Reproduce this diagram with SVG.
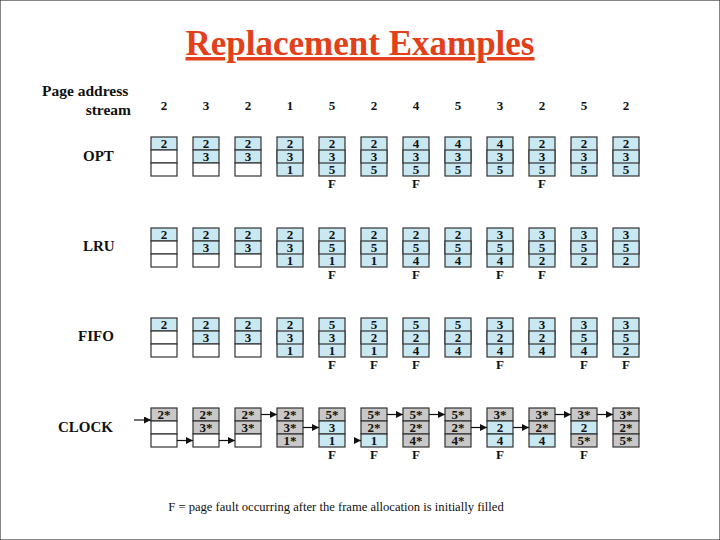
<svg xmlns="http://www.w3.org/2000/svg" width="720" height="540" viewBox="0 0 720 540">
<defs>
<style>
rect{stroke:#333;stroke-width:1.2}
.b{fill:#c9e8f1}.g{fill:#c8c8c8}.w{fill:#fff}
text{font-family:"Liberation Serif","Times New Roman",serif;font-weight:bold;fill:#111}
.t{font-size:13px;text-anchor:middle}
.f{font-size:13px;text-anchor:middle}
.l{font-size:15px}
.c{stroke:#111;stroke-width:1.2;fill:none;marker-end:url(#ah)}
</style>
<marker id="ah" viewBox="0 0 10 10" refX="10" refY="5" markerWidth="7" markerHeight="7" markerUnits="userSpaceOnUse" orient="auto"><path d="M0,0L10,5L0,10z" fill="#111"/></marker>
</defs>
<rect width="720" height="540" fill="#fff" stroke="none"/>
<text x="360" y="55" text-anchor="middle" style="font-size:35px;fill:#e2401b;text-decoration:underline">Replacement Examples</text>
<g id="header">
<text x="42" y="96" style="font-size:15.5px">Page address</text>
<text x="131" y="115" text-anchor="end" style="font-size:15.5px">stream</text>
<text class="t" x="164" y="110">2</text><text class="t" x="206" y="110">3</text><text class="t" x="248" y="110">2</text><text class="t" x="290" y="110">1</text><text class="t" x="332" y="110">5</text><text class="t" x="374" y="110">2</text><text class="t" x="416" y="110">4</text><text class="t" x="458" y="110">5</text><text class="t" x="500" y="110">3</text><text class="t" x="542" y="110">2</text><text class="t" x="584" y="110">5</text><text class="t" x="626" y="110">2</text>
</g>
<text class="l" x="83" y="161">OPT</text>
<text class="l" x="83" y="251">LRU</text>
<text class="l" x="78" y="341">FIFO</text>
<text class="l" x="58" y="432">CLOCK</text>

<g id="opt">
<g id="opt0"><rect class="b" x="151" y="137" width="26" height="13"/><rect class="w" x="151" y="150" width="26" height="13"/><rect class="w" x="151" y="163" width="26" height="13"/><text class="t" x="164" y="148">2</text></g>
<g id="opt1"><rect class="b" x="193" y="137" width="26" height="13"/><rect class="b" x="193" y="150" width="26" height="13"/><rect class="w" x="193" y="163" width="26" height="13"/><text class="t" x="206" y="148">2</text><text class="t" x="206" y="161">3</text></g>
<g id="opt2"><rect class="b" x="235" y="137" width="26" height="13"/><rect class="b" x="235" y="150" width="26" height="13"/><rect class="w" x="235" y="163" width="26" height="13"/><text class="t" x="248" y="148">2</text><text class="t" x="248" y="161">3</text></g>
<g id="opt3"><rect class="b" x="277" y="137" width="26" height="39"/><rect class="b" x="277" y="150" width="26" height="13"/><text class="t" x="290" y="148">2</text><text class="t" x="290" y="161">3</text><text class="t" x="290" y="174">1</text></g>
<g id="opt4"><rect class="b" x="319" y="137" width="26" height="39"/><rect class="b" x="319" y="150" width="26" height="13"/><text class="t" x="332" y="148">2</text><text class="t" x="332" y="161">3</text><text class="t" x="332" y="174">5</text><text class="f" x="332" y="188">F</text></g>
<g id="opt5"><rect class="b" x="361" y="137" width="26" height="39"/><rect class="b" x="361" y="150" width="26" height="13"/><text class="t" x="374" y="148">2</text><text class="t" x="374" y="161">3</text><text class="t" x="374" y="174">5</text></g>
<g id="opt6"><rect class="b" x="403" y="137" width="26" height="39"/><rect class="b" x="403" y="150" width="26" height="13"/><text class="t" x="416" y="148">4</text><text class="t" x="416" y="161">3</text><text class="t" x="416" y="174">5</text><text class="f" x="416" y="188">F</text></g>
<g id="opt7"><rect class="b" x="445" y="137" width="26" height="39"/><rect class="b" x="445" y="150" width="26" height="13"/><text class="t" x="458" y="148">4</text><text class="t" x="458" y="161">3</text><text class="t" x="458" y="174">5</text></g>
<g id="opt8"><rect class="b" x="487" y="137" width="26" height="39"/><rect class="b" x="487" y="150" width="26" height="13"/><text class="t" x="500" y="148">4</text><text class="t" x="500" y="161">3</text><text class="t" x="500" y="174">5</text></g>
<g id="opt9"><rect class="b" x="529" y="137" width="26" height="39"/><rect class="b" x="529" y="150" width="26" height="13"/><text class="t" x="542" y="148">2</text><text class="t" x="542" y="161">3</text><text class="t" x="542" y="174">5</text><text class="f" x="542" y="188">F</text></g>
<g id="opt10"><rect class="b" x="571" y="137" width="26" height="39"/><rect class="b" x="571" y="150" width="26" height="13"/><text class="t" x="584" y="148">2</text><text class="t" x="584" y="161">3</text><text class="t" x="584" y="174">5</text></g>
<g id="opt11"><rect class="b" x="613" y="137" width="26" height="39"/><rect class="b" x="613" y="150" width="26" height="13"/><text class="t" x="626" y="148">2</text><text class="t" x="626" y="161">3</text><text class="t" x="626" y="174">5</text></g>
</g>

<g id="lru">
<g id="lru0"><rect class="b" x="151" y="228" width="26" height="13"/><rect class="w" x="151" y="241" width="26" height="13"/><rect class="w" x="151" y="254" width="26" height="13"/><text class="t" x="164" y="239">2</text></g>
<g id="lru1"><rect class="b" x="193" y="228" width="26" height="13"/><rect class="b" x="193" y="241" width="26" height="13"/><rect class="w" x="193" y="254" width="26" height="13"/><text class="t" x="206" y="239">2</text><text class="t" x="206" y="252">3</text></g>
<g id="lru2"><rect class="b" x="235" y="228" width="26" height="13"/><rect class="b" x="235" y="241" width="26" height="13"/><rect class="w" x="235" y="254" width="26" height="13"/><text class="t" x="248" y="239">2</text><text class="t" x="248" y="252">3</text></g>
<g id="lru3"><rect class="b" x="277" y="228" width="26" height="39"/><rect class="b" x="277" y="241" width="26" height="13"/><text class="t" x="290" y="239">2</text><text class="t" x="290" y="252">3</text><text class="t" x="290" y="265">1</text></g>
<g id="lru4"><rect class="b" x="319" y="228" width="26" height="39"/><rect class="b" x="319" y="241" width="26" height="13"/><text class="t" x="332" y="239">2</text><text class="t" x="332" y="252">5</text><text class="t" x="332" y="265">1</text><text class="f" x="332" y="279">F</text></g>
<g id="lru5"><rect class="b" x="361" y="228" width="26" height="39"/><rect class="b" x="361" y="241" width="26" height="13"/><text class="t" x="374" y="239">2</text><text class="t" x="374" y="252">5</text><text class="t" x="374" y="265">1</text></g>
<g id="lru6"><rect class="b" x="403" y="228" width="26" height="39"/><rect class="b" x="403" y="241" width="26" height="13"/><text class="t" x="416" y="239">2</text><text class="t" x="416" y="252">5</text><text class="t" x="416" y="265">4</text><text class="f" x="416" y="279">F</text></g>
<g id="lru7"><rect class="b" x="445" y="228" width="26" height="39"/><rect class="b" x="445" y="241" width="26" height="13"/><text class="t" x="458" y="239">2</text><text class="t" x="458" y="252">5</text><text class="t" x="458" y="265">4</text></g>
<g id="lru8"><rect class="b" x="487" y="228" width="26" height="39"/><rect class="b" x="487" y="241" width="26" height="13"/><text class="t" x="500" y="239">3</text><text class="t" x="500" y="252">5</text><text class="t" x="500" y="265">4</text><text class="f" x="500" y="279">F</text></g>
<g id="lru9"><rect class="b" x="529" y="228" width="26" height="39"/><rect class="b" x="529" y="241" width="26" height="13"/><text class="t" x="542" y="239">3</text><text class="t" x="542" y="252">5</text><text class="t" x="542" y="265">2</text><text class="f" x="542" y="279">F</text></g>
<g id="lru10"><rect class="b" x="571" y="228" width="26" height="39"/><rect class="b" x="571" y="241" width="26" height="13"/><text class="t" x="584" y="239">3</text><text class="t" x="584" y="252">5</text><text class="t" x="584" y="265">2</text></g>
<g id="lru11"><rect class="b" x="613" y="228" width="26" height="39"/><rect class="b" x="613" y="241" width="26" height="13"/><text class="t" x="626" y="239">3</text><text class="t" x="626" y="252">5</text><text class="t" x="626" y="265">2</text></g>
</g>

<g id="fifo">
<g id="fifo0"><rect class="b" x="151" y="318" width="26" height="13"/><rect class="w" x="151" y="331" width="26" height="13"/><rect class="w" x="151" y="344" width="26" height="13"/><text class="t" x="164" y="329">2</text></g>
<g id="fifo1"><rect class="b" x="193" y="318" width="26" height="13"/><rect class="b" x="193" y="331" width="26" height="13"/><rect class="w" x="193" y="344" width="26" height="13"/><text class="t" x="206" y="329">2</text><text class="t" x="206" y="342">3</text></g>
<g id="fifo2"><rect class="b" x="235" y="318" width="26" height="13"/><rect class="b" x="235" y="331" width="26" height="13"/><rect class="w" x="235" y="344" width="26" height="13"/><text class="t" x="248" y="329">2</text><text class="t" x="248" y="342">3</text></g>
<g id="fifo3"><rect class="b" x="277" y="318" width="26" height="39"/><rect class="b" x="277" y="331" width="26" height="13"/><text class="t" x="290" y="329">2</text><text class="t" x="290" y="342">3</text><text class="t" x="290" y="355">1</text></g>
<g id="fifo4"><rect class="b" x="319" y="318" width="26" height="39"/><rect class="b" x="319" y="331" width="26" height="13"/><text class="t" x="332" y="329">5</text><text class="t" x="332" y="342">3</text><text class="t" x="332" y="355">1</text><text class="f" x="332" y="369">F</text></g>
<g id="fifo5"><rect class="b" x="361" y="318" width="26" height="39"/><rect class="b" x="361" y="331" width="26" height="13"/><text class="t" x="374" y="329">5</text><text class="t" x="374" y="342">2</text><text class="t" x="374" y="355">1</text><text class="f" x="374" y="369">F</text></g>
<g id="fifo6"><rect class="b" x="403" y="318" width="26" height="39"/><rect class="b" x="403" y="331" width="26" height="13"/><text class="t" x="416" y="329">5</text><text class="t" x="416" y="342">2</text><text class="t" x="416" y="355">4</text><text class="f" x="416" y="369">F</text></g>
<g id="fifo7"><rect class="b" x="445" y="318" width="26" height="39"/><rect class="b" x="445" y="331" width="26" height="13"/><text class="t" x="458" y="329">5</text><text class="t" x="458" y="342">2</text><text class="t" x="458" y="355">4</text></g>
<g id="fifo8"><rect class="b" x="487" y="318" width="26" height="39"/><rect class="b" x="487" y="331" width="26" height="13"/><text class="t" x="500" y="329">3</text><text class="t" x="500" y="342">2</text><text class="t" x="500" y="355">4</text><text class="f" x="500" y="369">F</text></g>
<g id="fifo9"><rect class="b" x="529" y="318" width="26" height="39"/><rect class="b" x="529" y="331" width="26" height="13"/><text class="t" x="542" y="329">3</text><text class="t" x="542" y="342">2</text><text class="t" x="542" y="355">4</text></g>
<g id="fifo10"><rect class="b" x="571" y="318" width="26" height="39"/><rect class="b" x="571" y="331" width="26" height="13"/><text class="t" x="584" y="329">3</text><text class="t" x="584" y="342">5</text><text class="t" x="584" y="355">4</text><text class="f" x="584" y="369">F</text></g>
<g id="fifo11"><rect class="b" x="613" y="318" width="26" height="39"/><rect class="b" x="613" y="331" width="26" height="13"/><text class="t" x="626" y="329">3</text><text class="t" x="626" y="342">5</text><text class="t" x="626" y="355">2</text><text class="f" x="626" y="369">F</text></g>
</g>

<g id="clock">
<g id="clk0"><rect class="g" x="151" y="408" width="26" height="13"/><rect class="w" x="151" y="421" width="26" height="13"/><rect class="w" x="151" y="434" width="26" height="13"/><text class="t" x="164" y="419">2*</text></g>
<g id="clk1"><rect class="g" x="193" y="408" width="26" height="13"/><rect class="g" x="193" y="421" width="26" height="13"/><rect class="w" x="193" y="434" width="26" height="13"/><text class="t" x="206" y="419">2*</text><text class="t" x="206" y="432">3*</text></g>
<g id="clk2"><rect class="g" x="235" y="408" width="26" height="13"/><rect class="g" x="235" y="421" width="26" height="13"/><rect class="w" x="235" y="434" width="26" height="13"/><text class="t" x="248" y="419">2*</text><text class="t" x="248" y="432">3*</text></g>
<g id="clk3"><rect class="g" x="277" y="408" width="26" height="13"/><rect class="g" x="277" y="421" width="26" height="13"/><rect class="g" x="277" y="434" width="26" height="13"/><text class="t" x="290" y="419">2*</text><text class="t" x="290" y="432">3*</text><text class="t" x="290" y="445">1*</text></g>
<g id="clk4"><rect class="g" x="319" y="408" width="26" height="13"/><rect class="b" x="319" y="421" width="26" height="13"/><rect class="b" x="319" y="434" width="26" height="13"/><text class="t" x="332" y="419">5*</text><text class="t" x="332" y="432">3</text><text class="t" x="332" y="445">1</text><text class="f" x="332" y="459">F</text></g>
<g id="clk5"><rect class="g" x="361" y="408" width="26" height="13"/><rect class="g" x="361" y="421" width="26" height="13"/><rect class="b" x="361" y="434" width="26" height="13"/><text class="t" x="374" y="419">5*</text><text class="t" x="374" y="432">2*</text><text class="t" x="374" y="445">1</text><text class="f" x="374" y="459">F</text></g>
<g id="clk6"><rect class="g" x="403" y="408" width="26" height="13"/><rect class="g" x="403" y="421" width="26" height="13"/><rect class="g" x="403" y="434" width="26" height="13"/><text class="t" x="416" y="419">5*</text><text class="t" x="416" y="432">2*</text><text class="t" x="416" y="445">4*</text><text class="f" x="416" y="459">F</text></g>
<g id="clk7"><rect class="g" x="445" y="408" width="26" height="13"/><rect class="g" x="445" y="421" width="26" height="13"/><rect class="g" x="445" y="434" width="26" height="13"/><text class="t" x="458" y="419">5*</text><text class="t" x="458" y="432">2*</text><text class="t" x="458" y="445">4*</text></g>
<g id="clk8"><rect class="g" x="487" y="408" width="26" height="13"/><rect class="b" x="487" y="421" width="26" height="13"/><rect class="b" x="487" y="434" width="26" height="13"/><text class="t" x="500" y="419">3*</text><text class="t" x="500" y="432">2</text><text class="t" x="500" y="445">4</text><text class="f" x="500" y="459">F</text></g>
<g id="clk9"><rect class="g" x="529" y="408" width="26" height="13"/><rect class="g" x="529" y="421" width="26" height="13"/><rect class="b" x="529" y="434" width="26" height="13"/><text class="t" x="542" y="419">3*</text><text class="t" x="542" y="432">2*</text><text class="t" x="542" y="445">4</text></g>
<g id="clk10"><rect class="g" x="571" y="408" width="26" height="13"/><rect class="b" x="571" y="421" width="26" height="13"/><rect class="g" x="571" y="434" width="26" height="13"/><text class="t" x="584" y="419">3*</text><text class="t" x="584" y="432">2</text><text class="t" x="584" y="445">5*</text><text class="f" x="584" y="459">F</text></g>
<g id="clk11"><rect class="g" x="613" y="408" width="26" height="13"/><rect class="g" x="613" y="421" width="26" height="13"/><rect class="g" x="613" y="434" width="26" height="13"/><text class="t" x="626" y="419">3*</text><text class="t" x="626" y="432">2*</text><text class="t" x="626" y="445">5*</text></g>
</g>

<g id="connectors">
<line class="c" x1="134" y1="420" x2="151" y2="420"/>
<line class="c" x1="177" y1="440.5" x2="193" y2="440.5"/>
<line class="c" x1="219" y1="440.5" x2="235" y2="440.5"/>
<line class="c" x1="261" y1="414.5" x2="277" y2="414.5"/>
<line class="c" x1="303" y1="427.5" x2="319" y2="427.5"/>
<line class="c" x1="355" y1="440.5" x2="361" y2="440.5"/>
<line class="c" x1="387" y1="414.5" x2="403" y2="414.5"/>
<line class="c" x1="429" y1="414.5" x2="445" y2="414.5"/>
<line class="c" x1="471" y1="427.5" x2="487" y2="427.5"/>
<line class="c" x1="513" y1="427.5" x2="529" y2="427.5"/>
<line class="c" x1="555" y1="414.5" x2="571" y2="414.5"/>
<line class="c" x1="597" y1="414.5" x2="613" y2="414.5"/>
</g>

<text x="336" y="511" text-anchor="middle" style="font-size:12.6px;font-weight:normal">F = page fault occurring after the frame allocation is initially filled</text>
</svg>
